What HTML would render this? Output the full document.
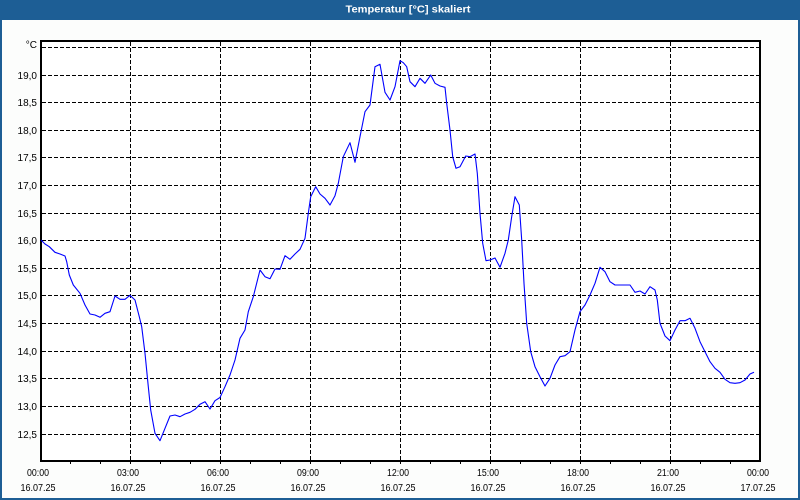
<!DOCTYPE html>
<html>
<head>
<meta charset="utf-8">
<style>
html,body{margin:0;padding:0;background:#fff;}
svg{display:block;}
text{font-family:"Liberation Sans","DejaVu Sans",sans-serif;}
</style>
</head>
<body>
<svg width="800" height="500" viewBox="0 0 800 500" xmlns="http://www.w3.org/2000/svg">
  <!-- window background -->
  <rect x="0" y="0" width="800" height="500" fill="#1d5e95"/>
  <rect x="2" y="20" width="796" height="478" fill="#fcfdfc"/>
  <!-- title -->
  <text x="408" y="12.5" fill="#ffffff" font-size="10" font-weight="bold" text-anchor="middle" textLength="125" lengthAdjust="spacingAndGlyphs">Temperatur [°C] skaliert</text>

  <!-- plot area -->
  <rect x="41" y="41" width="719" height="420" fill="#ffffff"/>

  <!-- horizontal grid -->
  <g stroke="#000" stroke-width="1" stroke-dasharray="4,2" fill="none">
    <line x1="42" x2="759" y1="47.5" y2="47.5"/>
    <line x1="42" x2="759" y1="75.5" y2="75.5"/>
    <line x1="42" x2="759" y1="102.5" y2="102.5"/>
    <line x1="42" x2="759" y1="130.5" y2="130.5"/>
    <line x1="42" x2="759" y1="157.5" y2="157.5"/>
    <line x1="42" x2="759" y1="185.5" y2="185.5"/>
    <line x1="42" x2="759" y1="213.5" y2="213.5"/>
    <line x1="42" x2="759" y1="240.5" y2="240.5"/>
    <line x1="42" x2="759" y1="268.5" y2="268.5"/>
    <line x1="42" x2="759" y1="295.5" y2="295.5"/>
    <line x1="42" x2="759" y1="323.5" y2="323.5"/>
    <line x1="42" x2="759" y1="351.5" y2="351.5"/>
    <line x1="42" x2="759" y1="378.5" y2="378.5"/>
    <line x1="42" x2="759" y1="406.5" y2="406.5"/>
    <line x1="42" x2="759" y1="434.5" y2="434.5"/>
  </g>
  <!-- vertical grid -->
  <g stroke="#000" stroke-width="1" stroke-dasharray="4,2" fill="none">
    <line x1="130.5" x2="130.5" y1="42" y2="460"/>
    <line x1="220.5" x2="220.5" y1="42" y2="460"/>
    <line x1="310.5" x2="310.5" y1="42" y2="460"/>
    <line x1="400.5" x2="400.5" y1="42" y2="460"/>
    <line x1="490.5" x2="490.5" y1="42" y2="460"/>
    <line x1="580.5" x2="580.5" y1="42" y2="460"/>
    <line x1="670.5" x2="670.5" y1="42" y2="460"/>
  </g>

  <!-- frame -->
  <rect x="41" y="41" width="719" height="420" fill="none" stroke="#000" stroke-width="2"/>

  <!-- x ticks -->
  <g stroke="#000" stroke-width="1">
    <line x1="70.5" x2="70.5" y1="461" y2="464"/>
    <line x1="100.5" x2="100.5" y1="461" y2="464"/>
    <line x1="130.5" x2="130.5" y1="461" y2="464"/>
    <line x1="160.5" x2="160.5" y1="461" y2="464"/>
    <line x1="190.5" x2="190.5" y1="461" y2="464"/>
    <line x1="220.5" x2="220.5" y1="461" y2="464"/>
    <line x1="250.5" x2="250.5" y1="461" y2="464"/>
    <line x1="280.5" x2="280.5" y1="461" y2="464"/>
    <line x1="310.5" x2="310.5" y1="461" y2="464"/>
    <line x1="340.5" x2="340.5" y1="461" y2="464"/>
    <line x1="370.5" x2="370.5" y1="461" y2="464"/>
    <line x1="400.5" x2="400.5" y1="461" y2="464"/>
    <line x1="430.5" x2="430.5" y1="461" y2="464"/>
    <line x1="460.5" x2="460.5" y1="461" y2="464"/>
    <line x1="490.5" x2="490.5" y1="461" y2="464"/>
    <line x1="520.5" x2="520.5" y1="461" y2="464"/>
    <line x1="550.5" x2="550.5" y1="461" y2="464"/>
    <line x1="580.5" x2="580.5" y1="461" y2="464"/>
    <line x1="610.5" x2="610.5" y1="461" y2="464"/>
    <line x1="640.5" x2="640.5" y1="461" y2="464"/>
    <line x1="670.5" x2="670.5" y1="461" y2="464"/>
    <line x1="700.5" x2="700.5" y1="461" y2="464"/>
    <line x1="730.5" x2="730.5" y1="461" y2="464"/>
  </g>

  <!-- data -->
  <polyline fill="none" stroke="#0000ff" stroke-width="1.1" stroke-linejoin="round" points="41,240 45,244 49.3,246.7 55,252.3 60,254 65,256 66.7,261.7 69.3,275 73.3,285 80,293.3 85,305 90,314 95,315 100,317.3 105,313.3 110,311.7 115,296 120,299.3 125,299.3 130,295.3 135,300 139.3,316.7 141.7,326.7 145,353.3 148.3,386.7 150.7,410 155,433.3 160,440.7 165,428.3 170,416 175,415 180,416.7 185,414 190,412.3 195,409.3 200,404.3 205,401.7 210,409 215,400.7 220,397.5 225,386.7 230,375 235,360 240,338.3 245,330 248.3,311.7 253.3,296.7 260,270 265,276.7 270,278.7 275,269 280,269.3 285,255.7 290,259.3 295,254 300,249.3 305,238.3 308.3,213.3 310.7,196.7 315.7,186.7 320,194 325,198.3 330,205 335,195.7 338.3,183.3 343.3,156.7 350,142.7 355,162.3 360,136.7 365,111.7 370,105 375,66.7 380,64.3 385,92.3 390,100 395,86.7 400,60.7 403.3,62.7 406.7,66.7 410,81.7 415,86.7 420,78.3 425,83.3 430.7,75 435,83.3 440,86 445,87.3 446.7,103.3 450,130 452.7,156.7 456,168.3 460,166.7 465.7,156 470,156.7 475,154 477.3,173.3 480,213.3 482.7,243.3 486,260.7 490,260 495,258 500,267.3 505,253.3 508.3,240 511.7,216.7 515,196.7 519.3,205 521.7,240 524,283.3 526.7,323.3 530.7,351.7 535,366.7 540,376.7 545,386 550,378.3 555,365 560,356.7 565,355.7 570,351.7 575,330 580,311.7 585,305 590,295 595,283.3 600,267.3 605,271.7 610,281.7 615,285 630,285 635,292.3 640,291 645,294 650,286.7 655,290 657.3,300 660,323.3 665,336 670,340.7 675,330 680,320.7 685,320.7 690,318.3 695,328.3 700,341.7 705,351.7 710,361.7 715,368.3 720,372.3 725,379.3 730,382.7 735,383.3 740,382.7 745,380 750,374 754,372.3"/>

  <!-- y labels -->
  <g fill="#000" font-size="10" text-anchor="end">
    <text x="37" y="48">°C</text>
    <text x="37" y="79">19,0</text>
    <text x="37" y="106">18,5</text>
    <text x="37" y="134">18,0</text>
    <text x="37" y="161">17,5</text>
    <text x="37" y="189">17,0</text>
    <text x="37" y="217">16,5</text>
    <text x="37" y="244">16,0</text>
    <text x="37" y="272">15,5</text>
    <text x="37" y="299">15,0</text>
    <text x="37" y="327">14,5</text>
    <text x="37" y="355">14,0</text>
    <text x="37" y="382">13,5</text>
    <text x="37" y="410">13,0</text>
    <text x="37" y="438">12,5</text>
  </g>

  <!-- x labels -->
  <g fill="#000" font-size="10" text-anchor="middle">
    <text x="38" y="476" textLength="22" lengthAdjust="spacingAndGlyphs">00:00</text>
    <text x="128" y="476" textLength="22" lengthAdjust="spacingAndGlyphs">03:00</text>
    <text x="218" y="476" textLength="22" lengthAdjust="spacingAndGlyphs">06:00</text>
    <text x="308" y="476" textLength="22" lengthAdjust="spacingAndGlyphs">09:00</text>
    <text x="398" y="476" textLength="22" lengthAdjust="spacingAndGlyphs">12:00</text>
    <text x="488" y="476" textLength="22" lengthAdjust="spacingAndGlyphs">15:00</text>
    <text x="578" y="476" textLength="22" lengthAdjust="spacingAndGlyphs">18:00</text>
    <text x="668" y="476" textLength="22" lengthAdjust="spacingAndGlyphs">21:00</text>
    <text x="758" y="476" textLength="22" lengthAdjust="spacingAndGlyphs">00:00</text>

    <text x="38" y="491" textLength="35" lengthAdjust="spacingAndGlyphs">16.07.25</text>
    <text x="128" y="491" textLength="35" lengthAdjust="spacingAndGlyphs">16.07.25</text>
    <text x="218" y="491" textLength="35" lengthAdjust="spacingAndGlyphs">16.07.25</text>
    <text x="308" y="491" textLength="35" lengthAdjust="spacingAndGlyphs">16.07.25</text>
    <text x="398" y="491" textLength="35" lengthAdjust="spacingAndGlyphs">16.07.25</text>
    <text x="488" y="491" textLength="35" lengthAdjust="spacingAndGlyphs">16.07.25</text>
    <text x="578" y="491" textLength="35" lengthAdjust="spacingAndGlyphs">16.07.25</text>
    <text x="668" y="491" textLength="35" lengthAdjust="spacingAndGlyphs">16.07.25</text>
    <text x="758" y="491" textLength="35" lengthAdjust="spacingAndGlyphs">17.07.25</text>
  </g>
</svg>
</body>
</html>
